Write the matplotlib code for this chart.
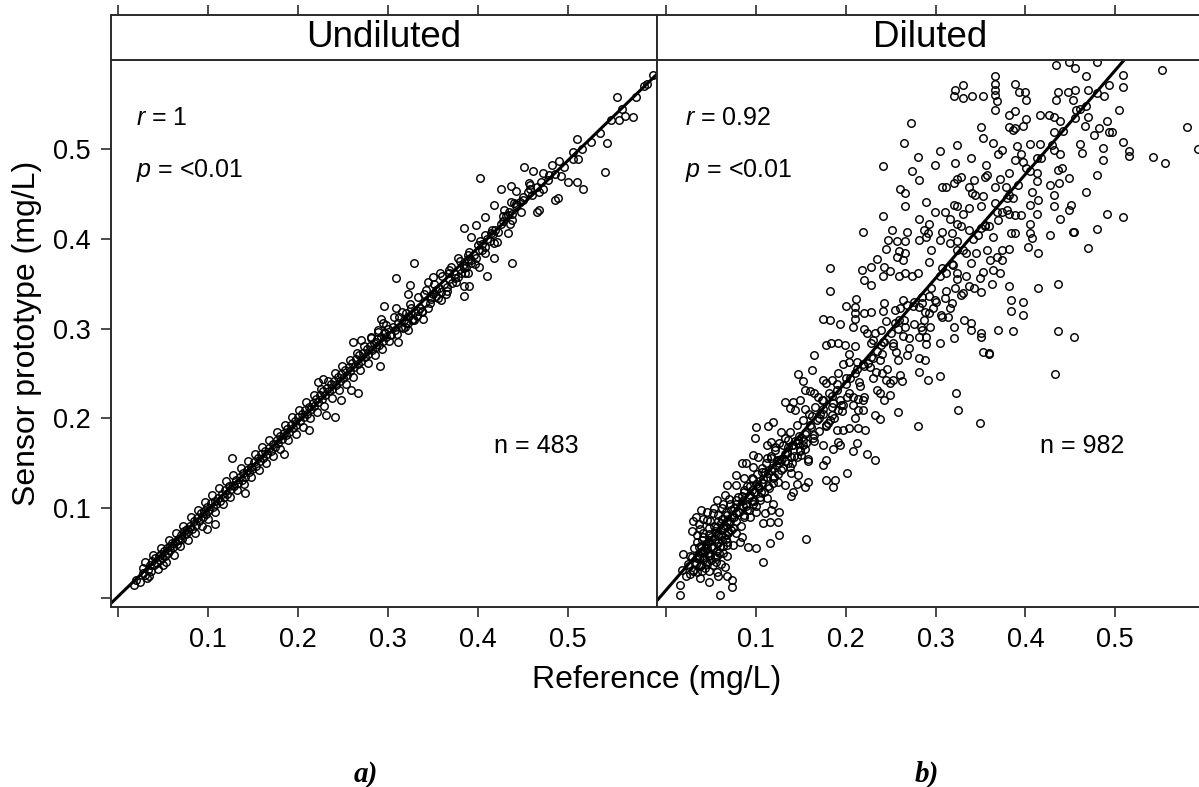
import matplotlib.pyplot as plt
import numpy as np

plt.rcParams['font.family'] = ['Liberation Sans', 'DejaVu Sans']
plt.rcParams['mathtext.fontset'] = 'custom'
plt.rcParams['mathtext.it'] = 'Liberation Sans:italic'
plt.rcParams['mathtext.rm'] = 'Liberation Sans'

# ---- data (Reference, Sensor prototype) in mg/L ----
und_outliers = [
    (0.017, 0.014), (0.027, 0.033), (0.032, 0.022), (0.050, 0.036), (0.099, 0.077),
    (0.107, 0.082), (0.126, 0.156), (0.141, 0.117), (0.184, 0.160), (0.212, 0.187),
    (0.231, 0.204), (0.241, 0.201), (0.222, 0.240), (0.228, 0.244), (0.261, 0.285),
    (0.291, 0.258), (0.266, 0.228), (0.259, 0.231), (0.248, 0.220),
]
und_band = [
    (0.020, 0.020), (0.024, 0.018), (0.028, 0.028), (0.030, 0.025), (0.033, 0.031),
    (0.035, 0.036), (0.036, 0.030), (0.038, 0.041), (0.040, 0.036), (0.041, 0.044),
    (0.043, 0.039), (0.045, 0.046), (0.046, 0.042), (0.048, 0.049), (0.049, 0.044),
    (0.051, 0.052), (0.052, 0.047), (0.054, 0.055), (0.055, 0.050), (0.057, 0.058),
    (0.058, 0.053), (0.060, 0.061), (0.061, 0.056), (0.063, 0.062), (0.065, 0.060),
    (0.066, 0.066), (0.068, 0.064), (0.070, 0.070), (0.071, 0.066), (0.073, 0.074),
    (0.075, 0.071), (0.076, 0.077), (0.078, 0.074), (0.080, 0.080), (0.082, 0.077),
    (0.084, 0.085), (0.086, 0.081), (0.088, 0.089), (0.090, 0.086), (0.092, 0.094),
    (0.094, 0.090), (0.095, 0.097), (0.097, 0.093), (0.099, 0.101), (0.101, 0.098),
    (0.103, 0.106), (0.105, 0.101), (0.107, 0.108), (0.109, 0.105), (0.111, 0.111),
    (0.113, 0.108), (0.115, 0.116), (0.117, 0.112), (0.119, 0.120), (0.121, 0.116),
    (0.123, 0.125), (0.125, 0.121), (0.127, 0.126), (0.129, 0.124), (0.131, 0.131),
    (0.133, 0.128), (0.135, 0.135), (0.137, 0.131), (0.139, 0.139), (0.141, 0.135),
    (0.143, 0.142), (0.145, 0.140), (0.147, 0.146), (0.149, 0.143), (0.151, 0.151),
    (0.153, 0.147), (0.155, 0.156), (0.157, 0.152), (0.159, 0.160), (0.161, 0.156),
    (0.163, 0.163), (0.165, 0.160), (0.167, 0.167), (0.170, 0.164), (0.172, 0.171),
    (0.174, 0.168), (0.176, 0.176), (0.178, 0.172), (0.180, 0.180), (0.182, 0.177),
    (0.184, 0.184), (0.186, 0.181), (0.188, 0.188), (0.190, 0.185), (0.192, 0.192),
    (0.194, 0.189), (0.196, 0.197), (0.198, 0.193), (0.200, 0.201), (0.202, 0.197),
    (0.204, 0.205), (0.206, 0.201), (0.208, 0.209), (0.210, 0.205), (0.212, 0.213),
    (0.214, 0.210), (0.216, 0.217), (0.218, 0.214), (0.220, 0.222), (0.222, 0.218),
    (0.224, 0.226), (0.226, 0.222), (0.228, 0.230), (0.230, 0.226), (0.232, 0.234),
    (0.234, 0.230), (0.236, 0.238), (0.238, 0.233), (0.240, 0.242), (0.242, 0.237),
    (0.244, 0.246), (0.246, 0.241), (0.248, 0.249), (0.250, 0.245), (0.252, 0.254),
    (0.254, 0.248), (0.256, 0.257), (0.258, 0.253), (0.260, 0.262), (0.262, 0.257),
    (0.264, 0.266), (0.266, 0.260), (0.268, 0.270), (0.270, 0.264), (0.272, 0.273),
    (0.274, 0.268), (0.276, 0.277), (0.278, 0.272), (0.280, 0.281), (0.282, 0.276),
    (0.284, 0.284), (0.286, 0.279), (0.288, 0.288), (0.290, 0.282), (0.292, 0.291),
    (0.294, 0.286), (0.296, 0.295), (0.298, 0.290), (0.300, 0.299), (0.302, 0.293),
    (0.305, 0.302), (0.308, 0.298), (0.311, 0.306), (0.314, 0.302), (0.317, 0.310),
    (0.320, 0.306), (0.323, 0.314), (0.326, 0.310), (0.329, 0.318), (0.332, 0.314),
    (0.335, 0.323), (0.338, 0.318), (0.341, 0.328), (0.344, 0.323), (0.347, 0.333),
    (0.350, 0.339), (0.353, 0.336), (0.356, 0.345), (0.359, 0.341), (0.362, 0.350),
    (0.365, 0.346), (0.368, 0.355), (0.371, 0.351), (0.374, 0.361), (0.377, 0.357),
    (0.380, 0.366), (0.383, 0.371), (0.386, 0.368), (0.389, 0.377), (0.392, 0.373),
    (0.395, 0.382), (0.398, 0.379), (0.401, 0.388), (0.404, 0.394), (0.407, 0.391),
    (0.410, 0.400), (0.413, 0.397), (0.416, 0.405), (0.419, 0.410), (0.422, 0.407),
    (0.425, 0.416), (0.428, 0.420), (0.431, 0.425), (0.434, 0.430), (0.438, 0.428),
    (0.442, 0.436), (0.446, 0.441), (0.450, 0.447), (0.455, 0.452), (0.460, 0.449),
    (0.465, 0.458), (0.470, 0.463), (0.478, 0.466), (0.485, 0.472), (0.495, 0.480),
    (0.505, 0.489), (0.515, 0.500), (0.525, 0.508), (0.535, 0.518), (0.548, 0.532),
    (0.560, 0.545), (0.575, 0.558), (0.588, 0.573),
]
und_band_edges = [
    (0.030, 0.040), (0.034, 0.024), (0.039, 0.048), (0.044, 0.032), (0.047, 0.055),
    (0.053, 0.040), (0.056, 0.064), (0.062, 0.048), (0.064, 0.072), (0.069, 0.058),
    (0.072, 0.080), (0.077, 0.064), (0.081, 0.090), (0.085, 0.072), (0.089, 0.098),
    (0.093, 0.080), (0.096, 0.107), (0.100, 0.088), (0.104, 0.114), (0.108, 0.095),
    (0.112, 0.122), (0.116, 0.104), (0.120, 0.130), (0.124, 0.112), (0.128, 0.137),
    (0.132, 0.120), (0.136, 0.145), (0.140, 0.127), (0.144, 0.152), (0.148, 0.135),
    (0.152, 0.160), (0.156, 0.142), (0.160, 0.168), (0.164, 0.150), (0.168, 0.176),
    (0.172, 0.158), (0.176, 0.185), (0.180, 0.166), (0.185, 0.193), (0.189, 0.176),
    (0.193, 0.201), (0.197, 0.183), (0.201, 0.209), (0.205, 0.190), (0.209, 0.218),
    (0.213, 0.200), (0.217, 0.226), (0.221, 0.207), (0.225, 0.233), (0.229, 0.214),
    (0.233, 0.241), (0.237, 0.223), (0.241, 0.250), (0.245, 0.231), (0.249, 0.258),
    (0.253, 0.238), (0.257, 0.265), (0.261, 0.246), (0.265, 0.273), (0.269, 0.254),
    (0.273, 0.281), (0.277, 0.262), (0.281, 0.289), (0.285, 0.270), (0.289, 0.296),
    (0.293, 0.277), (0.297, 0.304), (0.301, 0.286), (0.306, 0.313), (0.310, 0.294),
    (0.315, 0.318), (0.319, 0.302), (0.324, 0.327), (0.328, 0.311), (0.333, 0.335),
    (0.337, 0.320), (0.342, 0.343), (0.346, 0.328), (0.351, 0.350), (0.355, 0.334),
    (0.360, 0.358), (0.365, 0.342), (0.370, 0.368), (0.375, 0.352), (0.380, 0.375),
    (0.385, 0.362), (0.390, 0.385), (0.396, 0.372), (0.402, 0.398), (0.408, 0.384),
    (0.415, 0.410), (0.421, 0.396), (0.428, 0.425), (0.440, 0.440), (0.448, 0.430),
    (0.458, 0.460), (0.468, 0.452),
]
und_upper = [
    (0.594, 0.583), (0.584, 0.570), (0.554, 0.558), (0.556, 0.532), (0.563, 0.537),
    (0.572, 0.536), (0.510, 0.511), (0.543, 0.507), (0.505, 0.497), (0.511, 0.489),
    (0.541, 0.474), (0.490, 0.487), (0.482, 0.482), (0.451, 0.480), (0.461, 0.475),
    (0.472, 0.473), (0.479, 0.471), (0.492, 0.470), (0.500, 0.463), (0.510, 0.463),
    (0.516, 0.456), (0.402, 0.468), (0.425, 0.456), (0.436, 0.459), (0.442, 0.453),
    (0.456, 0.462), (0.457, 0.456), (0.472, 0.456), (0.485, 0.443), (0.489, 0.445),
    (0.465, 0.430), (0.467, 0.432), (0.418, 0.438), (0.436, 0.441), (0.442, 0.439),
    (0.450, 0.443), (0.429, 0.432), (0.433, 0.427), (0.437, 0.421), (0.435, 0.416),
    (0.433, 0.406), (0.437, 0.373), (0.407, 0.424), (0.397, 0.415), (0.384, 0.412),
    (0.392, 0.402), (0.408, 0.404), (0.414, 0.406), (0.418, 0.395), (0.400, 0.393),
    (0.404, 0.387), (0.417, 0.379), (0.410, 0.358), (0.401, 0.369), (0.392, 0.376),
    (0.389, 0.382), (0.378, 0.379), (0.329, 0.373), (0.309, 0.356), (0.324, 0.349),
    (0.322, 0.339), (0.344, 0.352), (0.350, 0.357), (0.357, 0.362), (0.367, 0.365),
    (0.368, 0.362), (0.374, 0.356), (0.381, 0.362), (0.384, 0.367), (0.389, 0.362),
    (0.384, 0.347), (0.390, 0.347), (0.384, 0.336), (0.340, 0.339), (0.348, 0.335),
    (0.359, 0.332), (0.353, 0.343), (0.364, 0.339), (0.295, 0.325), (0.309, 0.323),
    (0.312, 0.313), (0.320, 0.317), (0.325, 0.323), (0.333, 0.320), (0.339, 0.311),
    (0.329, 0.309), (0.322, 0.306), (0.316, 0.301), (0.292, 0.311), (0.294, 0.306),
    (0.289, 0.298), (0.281, 0.290), (0.270, 0.287), (0.286, 0.285), (0.295, 0.295),
    (0.303, 0.293), (0.311, 0.285), (0.322, 0.298),
]

dil_top = [
    (0.434, 0.594), (0.449, 0.597), (0.455, 0.590), (0.468, 0.581), (0.480, 0.597),
    (0.552, 0.588), (0.509, 0.583), (0.509, 0.569), (0.493, 0.571), (0.470, 0.566),
    (0.488, 0.559), (0.455, 0.566), (0.447, 0.564), (0.436, 0.564), (0.434, 0.555),
    (0.453, 0.555), (0.457, 0.544), (0.461, 0.545), (0.504, 0.543), (0.470, 0.536),
    (0.491, 0.531), (0.466, 0.526), (0.482, 0.523), (0.476, 0.516), (0.493, 0.519),
    (0.497, 0.519), (0.580, 0.524), (0.592, 0.500), (0.461, 0.506), (0.509, 0.508),
    (0.515, 0.498), (0.515, 0.492), (0.542, 0.491), (0.556, 0.484), (0.486, 0.501),
    (0.463, 0.496), (0.486, 0.488), (0.480, 0.471), (0.468, 0.452), (0.491, 0.428),
    (0.509, 0.424), (0.480, 0.411), (0.470, 0.390), (0.454, 0.407), (0.436, 0.350),
    (0.454, 0.291), (0.436, 0.297), (0.414, 0.345), (0.363, 0.350), (0.360, 0.273),
]
dil_upper = [
    (0.366, 0.581), (0.366, 0.573), (0.366, 0.566), (0.366, 0.560), (0.368, 0.553),
    (0.366, 0.543), (0.389, 0.573), (0.393, 0.564), (0.400, 0.564), (0.401, 0.555),
    (0.330, 0.571), (0.322, 0.566), (0.320, 0.559), (0.330, 0.557), (0.341, 0.559),
    (0.353, 0.559), (0.273, 0.529), (0.265, 0.507), (0.280, 0.491), (0.305, 0.498),
    (0.324, 0.505), (0.299, 0.482), (0.340, 0.490), (0.322, 0.484), (0.356, 0.482),
    (0.351, 0.525), (0.353, 0.512), (0.364, 0.507), (0.374, 0.499), (0.370, 0.494),
    (0.382, 0.525), (0.386, 0.521), (0.389, 0.523), (0.397, 0.526), (0.401, 0.534),
    (0.389, 0.542), (0.382, 0.538), (0.416, 0.538), (0.426, 0.538), (0.432, 0.536),
    (0.439, 0.531), (0.432, 0.519), (0.405, 0.506), (0.416, 0.506), (0.432, 0.499),
    (0.439, 0.494), (0.391, 0.503), (0.395, 0.495), (0.389, 0.488), (0.397, 0.486),
    (0.413, 0.490), (0.401, 0.479), (0.382, 0.473), (0.372, 0.467), (0.357, 0.471),
    (0.366, 0.458), (0.378, 0.458), (0.386, 0.445), (0.382, 0.449), (0.413, 0.473),
    (0.413, 0.464), (0.428, 0.460), (0.432, 0.449), (0.436, 0.477), (0.441, 0.479),
    (0.449, 0.468), (0.438, 0.462), (0.414, 0.443), (0.405, 0.438), (0.407, 0.452),
    (0.432, 0.436), (0.451, 0.438), (0.449, 0.432), (0.439, 0.422), (0.413, 0.428),
    (0.405, 0.417), (0.395, 0.426), (0.388, 0.426), (0.382, 0.428), (0.384, 0.406),
    (0.389, 0.406), (0.405, 0.406), (0.407, 0.401), (0.403, 0.391), (0.414, 0.384),
    (0.428, 0.404), (0.453, 0.408),
    (0.241, 0.481), (0.274, 0.475), (0.282, 0.465), (0.307, 0.458), (0.312, 0.458),
    (0.324, 0.467), (0.328, 0.469), (0.320, 0.462), (0.337, 0.458), (0.341, 0.451),
    (0.344, 0.449), (0.353, 0.448), (0.343, 0.465), (0.355, 0.469), (0.366, 0.440),
    (0.374, 0.430), (0.370, 0.421), (0.380, 0.432), (0.359, 0.414), (0.355, 0.414),
    (0.351, 0.412), (0.364, 0.402), (0.347, 0.404), (0.337, 0.410), (0.328, 0.414),
    (0.324, 0.436), (0.320, 0.438), (0.330, 0.428), (0.337, 0.434), (0.351, 0.436),
    (0.310, 0.430), (0.299, 0.430), (0.289, 0.441), (0.266, 0.451), (0.260, 0.455),
    (0.266, 0.437), (0.241, 0.425), (0.282, 0.422), (0.293, 0.417), (0.291, 0.406),
    (0.307, 0.408), (0.316, 0.422), (0.324, 0.417), (0.318, 0.406),
]
dil_middle = [
    (0.219, 0.407), (0.251, 0.410), (0.268, 0.407), (0.287, 0.410), (0.289, 0.402),
    (0.282, 0.399), (0.266, 0.397), (0.257, 0.397), (0.247, 0.399), (0.245, 0.389),
    (0.259, 0.386), (0.266, 0.384), (0.264, 0.376), (0.257, 0.380), (0.235, 0.378),
    (0.228, 0.369), (0.218, 0.365), (0.220, 0.354), (0.228, 0.349), (0.241, 0.358),
    (0.243, 0.369), (0.249, 0.364), (0.259, 0.358), (0.266, 0.362), (0.274, 0.358),
    (0.280, 0.362), (0.293, 0.374), (0.295, 0.388), (0.305, 0.399), (0.316, 0.395),
    (0.324, 0.397), (0.324, 0.388), (0.334, 0.384), (0.339, 0.373), (0.345, 0.384),
    (0.357, 0.388), (0.361, 0.376), (0.368, 0.380), (0.374, 0.388), (0.382, 0.389),
    (0.374, 0.376), (0.364, 0.365), (0.372, 0.362), (0.353, 0.363), (0.349, 0.356),
    (0.343, 0.345), (0.351, 0.341), (0.337, 0.347), (0.334, 0.358), (0.324, 0.362),
    (0.319, 0.371), (0.312, 0.362), (0.307, 0.367), (0.322, 0.345), (0.328, 0.337),
    (0.316, 0.323), (0.310, 0.334),
    (0.182, 0.367), (0.182, 0.342), (0.174, 0.311), (0.182, 0.310), (0.193, 0.305),
    (0.200, 0.325), (0.211, 0.333), (0.210, 0.324), (0.210, 0.317), (0.210, 0.311),
    (0.220, 0.317), (0.228, 0.318), (0.241, 0.319), (0.243, 0.328), (0.255, 0.321),
    (0.260, 0.323), (0.264, 0.332), (0.268, 0.326), (0.276, 0.330), (0.282, 0.324),
    (0.285, 0.328), (0.293, 0.336), (0.299, 0.332), (0.297, 0.323), (0.307, 0.313),
    (0.314, 0.313), (0.293, 0.317), (0.287, 0.310), (0.284, 0.302), (0.289, 0.291),
    (0.285, 0.298), (0.266, 0.302), (0.259, 0.310), (0.255, 0.306), (0.245, 0.308),
    (0.239, 0.298), (0.232, 0.295), (0.224, 0.295), (0.220, 0.300), (0.208, 0.302),
    (0.230, 0.287), (0.241, 0.285), (0.253, 0.284), (0.270, 0.289), (0.289, 0.283),
    (0.305, 0.284), (0.320, 0.289), (0.332, 0.310), (0.339, 0.306), (0.339, 0.298),
    (0.351, 0.295), (0.370, 0.298), (0.386, 0.297), (0.384, 0.319), (0.397, 0.315),
    (0.384, 0.332), (0.397, 0.330), (0.382, 0.347), (0.351, 0.291), (0.320, 0.302),
    (0.178, 0.282), (0.183, 0.284), (0.191, 0.284), (0.199, 0.282), (0.210, 0.281),
    (0.228, 0.284), (0.239, 0.282), (0.165, 0.270), (0.204, 0.272), (0.256, 0.274),
    (0.268, 0.270), (0.281, 0.267), (0.353, 0.274), (0.359, 0.272), (0.288, 0.265),
    (0.238, 0.265), (0.230, 0.267),
]
dil_lower = [
    (0.323, 0.228), (0.325, 0.209), (0.349, 0.195), (0.280, 0.191), (0.258, 0.207),
    (0.305, 0.247), (0.292, 0.243), (0.282, 0.251), (0.433, 0.249),
    (0.147, 0.249), (0.152, 0.241), (0.162, 0.254), (0.175, 0.243), (0.178, 0.239),
    (0.184, 0.243), (0.191, 0.250), (0.197, 0.261), (0.203, 0.263), (0.212, 0.263),
    (0.219, 0.261), (0.227, 0.257), (0.234, 0.252), (0.240, 0.250), (0.245, 0.243),
    (0.249, 0.239), (0.253, 0.243), (0.260, 0.248), (0.262, 0.241), (0.249, 0.226),
    (0.242, 0.220), (0.238, 0.228), (0.232, 0.204), (0.238, 0.199), (0.214, 0.209),
    (0.219, 0.209), (0.214, 0.189), (0.221, 0.187), (0.210, 0.200), (0.208, 0.224),
    (0.214, 0.222), (0.219, 0.220), (0.201, 0.224), (0.197, 0.215), (0.191, 0.209),
    (0.184, 0.204), (0.186, 0.217), (0.175, 0.220), (0.169, 0.224), (0.165, 0.228),
    (0.160, 0.230), (0.154, 0.231), (0.149, 0.220), (0.141, 0.218), (0.132, 0.218),
    (0.138, 0.211), (0.143, 0.209), (0.154, 0.210), (0.162, 0.202), (0.171, 0.205),
    (0.178, 0.191), (0.182, 0.198), (0.190, 0.187), (0.197, 0.187), (0.203, 0.189),
    (0.191, 0.174), (0.186, 0.166), (0.193, 0.170), (0.175, 0.170), (0.165, 0.181),
    (0.152, 0.176), (0.147, 0.172), (0.154, 0.166), (0.149, 0.165), (0.141, 0.170),
    (0.136, 0.176), (0.128, 0.185), (0.119, 0.196), (0.113, 0.191), (0.100, 0.190),
    (0.099, 0.178), (0.112, 0.170), (0.117, 0.174), (0.121, 0.168), (0.130, 0.170),
    (0.134, 0.161), (0.139, 0.157), (0.150, 0.159), (0.158, 0.155), (0.158, 0.152),
    (0.145, 0.157), (0.212, 0.172), (0.208, 0.163), (0.224, 0.160), (0.232, 0.153),
    (0.201, 0.139), (0.178, 0.131), (0.188, 0.131), (0.186, 0.123), (0.175, 0.148),
    (0.178, 0.153),
    (0.097, 0.159), (0.102, 0.157), (0.112, 0.156), (0.117, 0.156), (0.123, 0.153),
    (0.126, 0.153), (0.132, 0.152), (0.138, 0.146), (0.139, 0.139), (0.147, 0.137),
    (0.158, 0.129), (0.154, 0.123), (0.145, 0.127), (0.132, 0.126), (0.124, 0.129),
    (0.119, 0.133), (0.113, 0.139), (0.106, 0.140), (0.097, 0.146), (0.089, 0.150),
    (0.084, 0.150), (0.078, 0.137), (0.087, 0.133), (0.095, 0.133), (0.100, 0.127),
    (0.099, 0.118), (0.093, 0.124), (0.086, 0.120), (0.078, 0.126), (0.067, 0.126),
    (0.065, 0.114), (0.056, 0.109), (0.063, 0.105), (0.071, 0.105), (0.078, 0.109),
    (0.084, 0.113), (0.089, 0.105), (0.097, 0.105), (0.104, 0.109), (0.112, 0.111),
    (0.119, 0.105), (0.117, 0.098), (0.126, 0.095), (0.139, 0.113), (0.141, 0.118),
    (0.110, 0.094), (0.100, 0.095), (0.093, 0.090), (0.086, 0.092), (0.078, 0.094),
    (0.073, 0.090), (0.067, 0.085), (0.061, 0.083), (0.056, 0.079), (0.052, 0.094),
    (0.045, 0.087), (0.039, 0.098), (0.037, 0.077), (0.028, 0.074), (0.034, 0.070),
    (0.041, 0.068), (0.048, 0.071), (0.054, 0.074), (0.061, 0.075), (0.069, 0.074),
    (0.078, 0.072), (0.084, 0.068), (0.091, 0.057), (0.100, 0.055), (0.108, 0.083),
    (0.115, 0.084), (0.124, 0.084), (0.126, 0.070), (0.115, 0.061), (0.108, 0.040),
    (0.156, 0.066), (0.082, 0.062), (0.074, 0.059), (0.067, 0.059), (0.058, 0.061),
    (0.050, 0.057), (0.045, 0.055), (0.041, 0.051), (0.019, 0.049), (0.026, 0.046),
    (0.034, 0.044), (0.041, 0.042), (0.048, 0.046), (0.056, 0.046), (0.067, 0.046),
    (0.061, 0.038), (0.052, 0.037), (0.045, 0.038), (0.037, 0.035), (0.030, 0.031),
    (0.026, 0.027), (0.022, 0.024), (0.017, 0.031), (0.034, 0.029), (0.056, 0.029),
    (0.065, 0.034), (0.058, 0.024), (0.067, 0.024), (0.073, 0.020), (0.073, 0.012),
    (0.048, 0.018), (0.015, 0.014), (0.015, 0.003), (0.060, 0.003), (0.037, 0.022),
    (0.024, 0.038),
]
dil_core = [
    (0.032, 0.040), (0.035, 0.048), (0.038, 0.036), (0.040, 0.052), (0.042, 0.045),
    (0.044, 0.060), (0.046, 0.050), (0.048, 0.064), (0.050, 0.042), (0.052, 0.055),
    (0.054, 0.066), (0.056, 0.052), (0.058, 0.070), (0.060, 0.058), (0.062, 0.064),
    (0.064, 0.078), (0.066, 0.070), (0.068, 0.062), (0.070, 0.082), (0.072, 0.075),
    (0.043, 0.033), (0.047, 0.030), (0.036, 0.056), (0.055, 0.040), (0.063, 0.050),
    (0.040, 0.064), (0.030, 0.085), (0.033, 0.090), (0.036, 0.082), (0.041, 0.088),
    (0.045, 0.095), (0.049, 0.085), (0.053, 0.100), (0.058, 0.092), (0.062, 0.100),
    (0.066, 0.095), (0.070, 0.110), (0.075, 0.100),
    (0.080, 0.095), (0.085, 0.102), (0.090, 0.098), (0.092, 0.112), (0.095, 0.120),
    (0.098, 0.108), (0.102, 0.125), (0.105, 0.118), (0.108, 0.132), (0.110, 0.140),
    (0.113, 0.125), (0.118, 0.145), (0.120, 0.135), (0.125, 0.150), (0.128, 0.142),
    (0.132, 0.160), (0.135, 0.168), (0.140, 0.150), (0.143, 0.175), (0.148, 0.180),
    (0.152, 0.170), (0.155, 0.185), (0.160, 0.192), (0.165, 0.175), (0.170, 0.200),
    (0.175, 0.210), (0.180, 0.195), (0.185, 0.225), (0.190, 0.232), (0.195, 0.215),
    (0.200, 0.238), (0.205, 0.245), (0.210, 0.250), (0.215, 0.240), (0.220, 0.258),
    (0.228, 0.268), (0.235, 0.275), (0.242, 0.285), (0.250, 0.295), (0.258, 0.300),
    (0.265, 0.310), (0.275, 0.325), (0.285, 0.335), (0.295, 0.345), (0.305, 0.358),
    (0.318, 0.372), (0.330, 0.388), (0.342, 0.400), (0.355, 0.415), (0.368, 0.430),
    (0.380, 0.445), (0.392, 0.460), (0.405, 0.475), (0.418, 0.490), (0.430, 0.505),
    (0.442, 0.520), (0.455, 0.535), (0.468, 0.548), (0.480, 0.562),
]
dil_core_dense = [
    (0.025, 0.035), (0.028, 0.045), (0.030, 0.030), (0.031, 0.055), (0.033, 0.038),
    (0.034, 0.062), (0.036, 0.044), (0.037, 0.050), (0.039, 0.058), (0.040, 0.030),
    (0.041, 0.072), (0.043, 0.052), (0.044, 0.040), (0.046, 0.062), (0.047, 0.078),
    (0.049, 0.048), (0.050, 0.068), (0.051, 0.058), (0.053, 0.080), (0.054, 0.045),
    (0.055, 0.072), (0.057, 0.062), (0.058, 0.085), (0.059, 0.050), (0.061, 0.070),
    (0.062, 0.088), (0.063, 0.058), (0.065, 0.080), (0.066, 0.066), (0.068, 0.092),
    (0.069, 0.072), (0.071, 0.085), (0.072, 0.098), (0.074, 0.078), (0.075, 0.090),
    (0.077, 0.105), (0.078, 0.085), (0.080, 0.112), (0.081, 0.095), (0.083, 0.080),
    (0.084, 0.108), (0.086, 0.118), (0.087, 0.090), (0.089, 0.102), (0.090, 0.125),
    (0.092, 0.098), (0.093, 0.115), (0.095, 0.108), (0.096, 0.132), (0.098, 0.118),
    (0.100, 0.102), (0.101, 0.138), (0.103, 0.122), (0.104, 0.112), (0.106, 0.145),
    (0.107, 0.128), (0.109, 0.118), (0.111, 0.150), (0.112, 0.135), (0.114, 0.122),
    (0.116, 0.158), (0.117, 0.142), (0.119, 0.128), (0.121, 0.165), (0.122, 0.148),
    (0.124, 0.138), (0.126, 0.172), (0.128, 0.155), (0.130, 0.145), (0.132, 0.178),
    (0.134, 0.162), (0.136, 0.150), (0.138, 0.185), (0.140, 0.170), (0.142, 0.158),
    (0.145, 0.192), (0.147, 0.176), (0.149, 0.164), (0.152, 0.198), (0.154, 0.182),
    (0.156, 0.172), (0.159, 0.205), (0.161, 0.190), (0.163, 0.178), (0.166, 0.212),
    (0.168, 0.198), (0.170, 0.186), (0.173, 0.220), (0.175, 0.205), (0.178, 0.192),
    (0.181, 0.228), (0.184, 0.212), (0.187, 0.200), (0.190, 0.238), (0.193, 0.220),
    (0.196, 0.208), (0.200, 0.245), (0.204, 0.228), (0.208, 0.215), (0.212, 0.255),
    (0.216, 0.236), (0.220, 0.224), (0.225, 0.262), (0.230, 0.245), (0.235, 0.232),
    (0.240, 0.272), (0.246, 0.255), (0.252, 0.280), (0.258, 0.265), (0.264, 0.292),
    (0.270, 0.278), (0.276, 0.305), (0.282, 0.290), (0.288, 0.318), (0.294, 0.302),
    (0.300, 0.330), (0.306, 0.315), (0.312, 0.342), (0.318, 0.328), (0.324, 0.355),
    (0.330, 0.340),
]

panel_titles = ['Undiluted', 'Diluted']
r_text = ['1', '0.92']
p_text = ['<0.01', '<0.01']
n_text = [483, 982]
fit_slope = [0.972, 1.157]
fit_intercept = [0.0016, 0.009]
tick_vals = [0, 0.1, 0.2, 0.3, 0.4, 0.5]
tick_labels = ['', '0.1', '0.2', '0.3', '0.4', '0.5']

panel_points = [
    np.array(und_outliers + und_band + und_band_edges + und_upper),
    np.array(dil_top + dil_upper + dil_middle + dil_lower + dil_core + dil_core_dense),
]

# ---- layout (pixel boxes of the 1199 x 787 picture) ----
W, H = 1199, 787
def box(x0, y0, x1, y1):
    return [x0 / W, 1 - y1 / H, (x1 - x0) / W, (y1 - y0) / H]

frame_col = '#2b2b2b'
fig = plt.figure(figsize=(11.99, 7.87), dpi=100)

panel_left = [111, 657]
x_limits = [(-0.0080, 0.5986), (-0.0105, 0.5980)]
y_limits = (-0.0103, 0.5992)

for i in range(2):
    x0 = panel_left[i]
    ax = fig.add_axes(box(x0, 60, x0 + 546, 607))
    pts = panel_points[i]
    ax.plot(pts[:, 0], pts[:, 1], 'o', ms=5.4, mfc='none', mec='black', mew=1.05)
    xx = np.array(x_limits[i])
    ax.plot(xx, fit_slope[i] * xx + fit_intercept[i], color='black', lw=2.2)
    ax.set_xlim(x_limits[i])
    ax.set_ylim(y_limits)
    ax.set_xticks(tick_vals, tick_labels)
    ax.set_yticks(tick_vals, tick_labels)
    ax.tick_params(direction='out', length=7.5, width=1.2, color=frame_col,
                   labelsize=19.5, pad=7)
    if i == 1:
        ax.tick_params(axis='y', left=False, labelleft=False)
    for s in ax.spines.values():
        s.set_color(frame_col)
        s.set_linewidth(1.4)

    ax.text(0.046 if i == 0 else 0.051, 0.881, r'$r$ = ' + r_text[i],
            transform=ax.transAxes, fontsize=18, va='baseline')
    ax.text(0.046 if i == 0 else 0.051, 0.786, r'$p$ = ' + p_text[i],
            transform=ax.transAxes, fontsize=18, va='baseline')
    ax.text(0.7015, 0.2815, f'n = {n_text[i]}', transform=ax.transAxes,
            fontsize=18, va='baseline')

    # strip with the panel name, ticks on top
    st = fig.add_axes(box(x0, 15, x0 + 546, 60))
    st.set_xlim(x_limits[i])
    st.set_ylim(0, 1)
    st.set_yticks([])
    st.xaxis.tick_top()
    st.set_xticks(tick_vals)
    st.tick_params(axis='x', direction='out', length=7.5, width=1.2,
                   color=frame_col, labeltop=False)
    for s in st.spines.values():
        s.set_color(frame_col)
        s.set_linewidth(1.4)
    st.text(0.5, 0.5, panel_titles[i], transform=st.transAxes,
            ha='center', va='center', fontsize=26.5)

fig.text(27 / W, 1 - 333 / H, 'Sensor prototype (mg/L)', rotation=90,
         ha='center', va='center', fontsize=23)
fig.text(657 / W, 1 - 680 / H, 'Reference (mg/L)', ha='center', va='center',
         fontsize=23)

serif = ['Liberation Serif', 'DejaVu Serif']
fig.text(366 / W, 1 - 782 / H, 'a)', ha='center', va='baseline', family=serif,
         weight='bold', style='italic', fontsize=21)
fig.text(927 / W, 1 - 782 / H, 'b)', ha='center', va='baseline', family=serif,
         weight='bold', style='italic', fontsize=21)

fig.savefig('out.png', dpi=100)
